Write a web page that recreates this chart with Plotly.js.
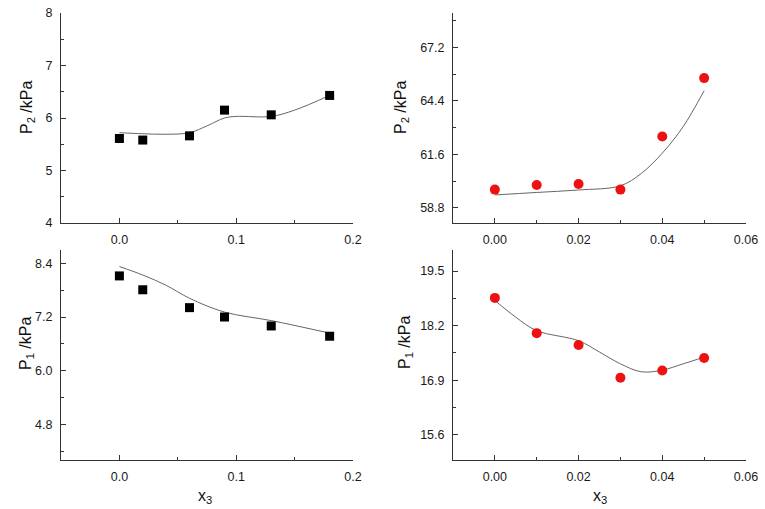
<!DOCTYPE html>
<html>
<head>
<meta charset="utf-8">
<script src="https://cdn.plot.ly/plotly-3.0.1.min.js"></script>
<style>
  html, body { margin: 0; padding: 0; background: #fff; }
  #plot { width: 765px; height: 509px; }
</style>
</head>
<body>
<div id="plot"></div>
<script>
// x3 mole fractions for each system
const x3Left = [0, 0.02, 0.06, 0.09, 0.13, 0.18];
const x3Right = [0, 0.01, 0.02, 0.03, 0.04, 0.05];

// measured pressures (kPa)
const p2Left = [5.61, 5.58, 5.66, 6.15, 6.06, 6.43];
const p1Left = [8.12, 7.81, 7.41, 7.20, 7.00, 6.77];
const p2Right = [59.75, 59.99, 60.04, 59.75, 62.53, 65.59];
const p1Right = [18.86, 18.02, 17.74, 16.96, 17.13, 17.43];

// fitted curves
const fitXp2Left = [0, 0.02, 0.04, 0.06, 0.075, 0.09, 0.10, 0.13, 0.15, 0.18];
const fitp2Left = [5.72, 5.70, 5.69, 5.72, 5.85, 6.00, 6.03, 6.03, 6.15, 6.43];
const fitXp1Left = [0, 0.02, 0.04, 0.06, 0.09, 0.13, 0.18];
const fitp1Left = [8.33, 8.14, 7.91, 7.62, 7.31, 7.12, 6.84];
const fitXp2Right = [0, 0.01, 0.02, 0.03, 0.035, 0.04, 0.045, 0.05];
const fitp2Right = [59.47, 59.60, 59.73, 59.95, 60.6, 61.66, 63.05, 64.93];
const fitXp1Right = [0, 0.005, 0.01, 0.02, 0.025, 0.03, 0.035, 0.04, 0.045, 0.05];
const fitp1Right = [18.80, 18.40, 18.08, 17.84, 17.57, 17.29, 17.10, 17.14, 17.29, 17.45];

const W = 765, H = 509;
const px = v => v / W;
const py = v => 1 - v / H;

const lineCol = '#333';
const fitCol = '#666';

function axis(domain, anchor, range, tick0, dtick, fmt) {
    return {
        domain: domain,
        anchor: anchor,
        range: range,
        tick0: tick0,
        dtick: dtick,
        tickformat: fmt,
        showline: true,
        linecolor: lineCol,
        linewidth: 1,
        ticks: 'inside',
        ticklen: 5,
        tickwidth: 1,
        tickcolor: lineCol,
        ticklabelstandoff: 5,
        minor: { ticks: 'inside', ticklen: 3, tickcolor: lineCol, dtick: dtick / 2, showgrid: false },
        showgrid: false,
        zeroline: false,
        tickfont: { family: 'Liberation Sans, Arial, sans-serif', size: 12.5, color: '#1a1a1a' }
    };
}

function pts(x, y, ax, symbol, color, size) {
    return {
        x: x, y: y, xaxis: ax[0], yaxis: ax[1],
        mode: 'markers', type: 'scatter',
        marker: { symbol: symbol, color: color, size: size }
    };
}

function fit(x, y, ax) {
    return {
        x: x, y: y, xaxis: ax[0], yaxis: ax[1],
        mode: 'lines', type: 'scatter',
        line: { shape: 'spline', smoothing: 1, color: fitCol, width: 1 }
    };
}

const traces = [
    fit(fitXp2Left, fitp2Left, ['x', 'y']),
    pts(x3Left, p2Left, ['x', 'y'], 'square', '#000', 9),
    fit(fitXp2Right, fitp2Right, ['x2', 'y2']),
    pts(x3Right, p2Right, ['x2', 'y2'], 'circle', '#ee1111', 10),
    fit(fitXp1Left, fitp1Left, ['x3', 'y3']),
    pts(x3Left, p1Left, ['x3', 'y3'], 'square', '#000', 9),
    fit(fitXp1Right, fitp1Right, ['x4', 'y4']),
    pts(x3Right, p1Right, ['x4', 'y4'], 'circle', '#ee1111', 10)
];

const leftX = [px(61), px(353)];
const rightX = [px(453), px(746)];
const topY = [py(223), py(13)];
const botY = [py(460), py(250)];

const titleFont = { family: 'Liberation Sans, Arial, sans-serif', size: 16, color: '#111' };

function yTitle(text, x, y) {
    return { text: text, x: px(x), y: py(y), xref: 'paper', yref: 'paper',
             showarrow: false, textangle: -90, xanchor: 'center', yanchor: 'middle', font: titleFont };
}
function xTitle(text, x, y) {
    return { text: text, x: px(x), y: py(y), xref: 'paper', yref: 'paper',
             showarrow: false, xanchor: 'center', yanchor: 'middle', font: titleFont };
}

const layout = {
    width: W, height: H,
    margin: { l: 0, r: 0, t: 0, b: 0 },
    paper_bgcolor: '#fff',
    plot_bgcolor: '#fff',
    showlegend: false,
    xaxis: axis(leftX, 'y', [-0.05, 0.2], 0, 0.1, '.1f'),
    yaxis: axis(topY, 'x', [4, 8], 4, 1, 'd'),
    xaxis2: axis(rightX, 'y2', [-0.01, 0.06], 0, 0.02, '.2f'),
    yaxis2: axis(topY, 'x2', [58, 69], 58.8, 2.8, '.1f'),
    xaxis3: axis(leftX, 'y3', [-0.05, 0.2], 0, 0.1, '.1f'),
    yaxis3: axis(botY, 'x3', [4.0, 8.7], 4.8, 1.2, '.1f'),
    xaxis4: axis(rightX, 'y4', [-0.01, 0.06], 0, 0.02, '.2f'),
    yaxis4: axis(botY, 'x4', [15, 20], 15.6, 1.3, '.1f'),
    annotations: [
        yTitle('P<sub>2</sub> /kPa', 28, 108),
        yTitle('P<sub>2</sub> /kPa', 402, 108),
        yTitle('P<sub>1</sub> /kPa', 26, 343),
        yTitle('P<sub>1</sub> /kPa', 405, 343),
        xTitle('x<sub>3</sub>', 205, 496),
        xTitle('x<sub>3</sub>', 600, 496)
    ]
};

Plotly.newPlot('plot', traces, layout, { displayModeBar: false, staticPlot: true });
</script>
</body>
</html>
